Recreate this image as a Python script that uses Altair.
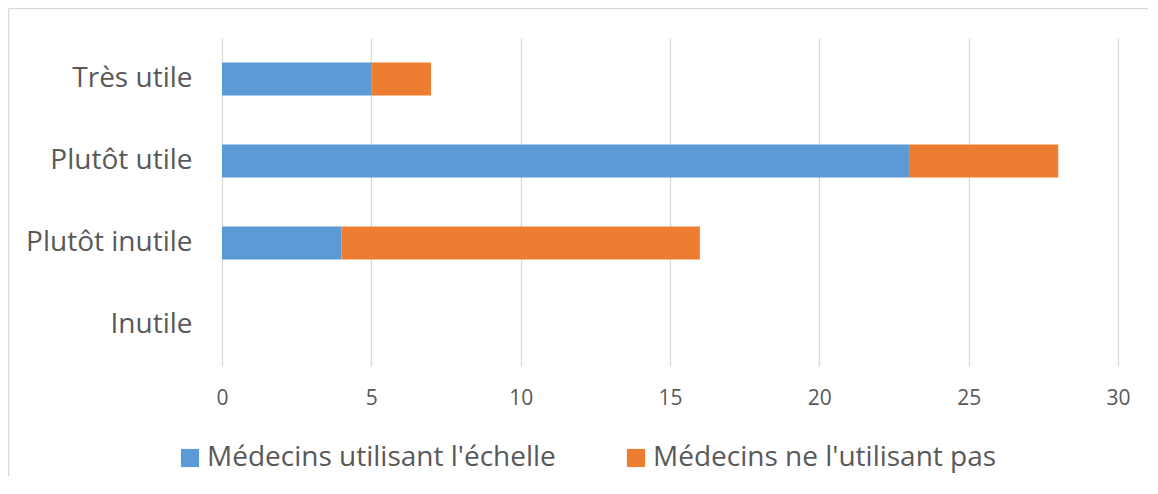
import altair as alt
import pandas as pd

categories = ["Très utile", "Plutôt utile", "Plutôt inutile", "Inutile"]
series = ["Médecins utilisant l'échelle", "Médecins ne l'utilisant pas"]
using = [5, 23, 4, 0]
not_using = [2, 5, 12, 0]
colors = ["#5B9BD5", "#ED7D31"]

rows = []
for c, a, b in zip(categories, using, not_using):
    rows.append({"cat": c, "serie": series[0], "val": a, "ord": 0})
    rows.append({"cat": c, "serie": series[1], "val": b, "ord": 1})
df = pd.DataFrame(rows)

FONT = "Open Sans"
TXT = "#595959"

bars = alt.Chart(df).mark_bar(stroke=None).encode(
    y=alt.Y("cat:N", sort=categories, title=None,
            scale=alt.Scale(paddingInner=0.6, paddingOuter=0.3),
            axis=alt.Axis(domain=False, ticks=False, grid=False, labelFontSize=28,
                          labelFont=FONT, labelColor=TXT, labelPadding=30)),
    x=alt.X("val:Q", stack="zero", title=None,
            scale=alt.Scale(domain=[0, 30], nice=False),
            axis=alt.Axis(values=[0, 5, 10, 15, 20, 25, 30], domain=False, ticks=False,
                          grid=True, gridColor="#D9D9D9", gridWidth=1.3,
                          labelFontSize=21, labelFont=FONT, labelColor=TXT,
                          labelFlush=False, labelAlign="center", labelOverlap=False,
                          labelPadding=21)),
    color=alt.Color("serie:N", sort=series,
                    scale=alt.Scale(domain=series, range=colors),
                    legend=alt.Legend(title=None, orient="none", direction="horizontal",
                                      legendX=-46, legendY=406,
                                      symbolType="square", symbolSize=330,
                                      symbolStrokeWidth=0, labelFontSize=28,
                                      labelFont=FONT, labelColor=TXT,
                                      labelOffset=3, columnPadding=66, labelLimit=600)),
    order=alt.Order("ord:Q"),
)

one = pd.DataFrame({"a": [0]})
top_line = alt.Chart(one).mark_rule(color="#D9D9D9", strokeWidth=1.5).encode(
    x=alt.value(-213.5), x2=alt.value(930), y=alt.value(-29.5),
)
left_line = alt.Chart(one).mark_rule(color="#D9D9D9", strokeWidth=1.5).encode(
    x=alt.value(-213.5), y=alt.value(-29.5), y2=alt.value(440),
)

chart = alt.layer(top_line, left_line, bars).properties(
    width=896, height=328,
    autosize=alt.AutoSizeParams(type="none"),
    padding={"left": 214, "top": 30, "right": 30, "bottom": 110},
).configure_view(stroke=None)

chart.save("out.html", embed_options={"renderer": "svg", "actions": False})
